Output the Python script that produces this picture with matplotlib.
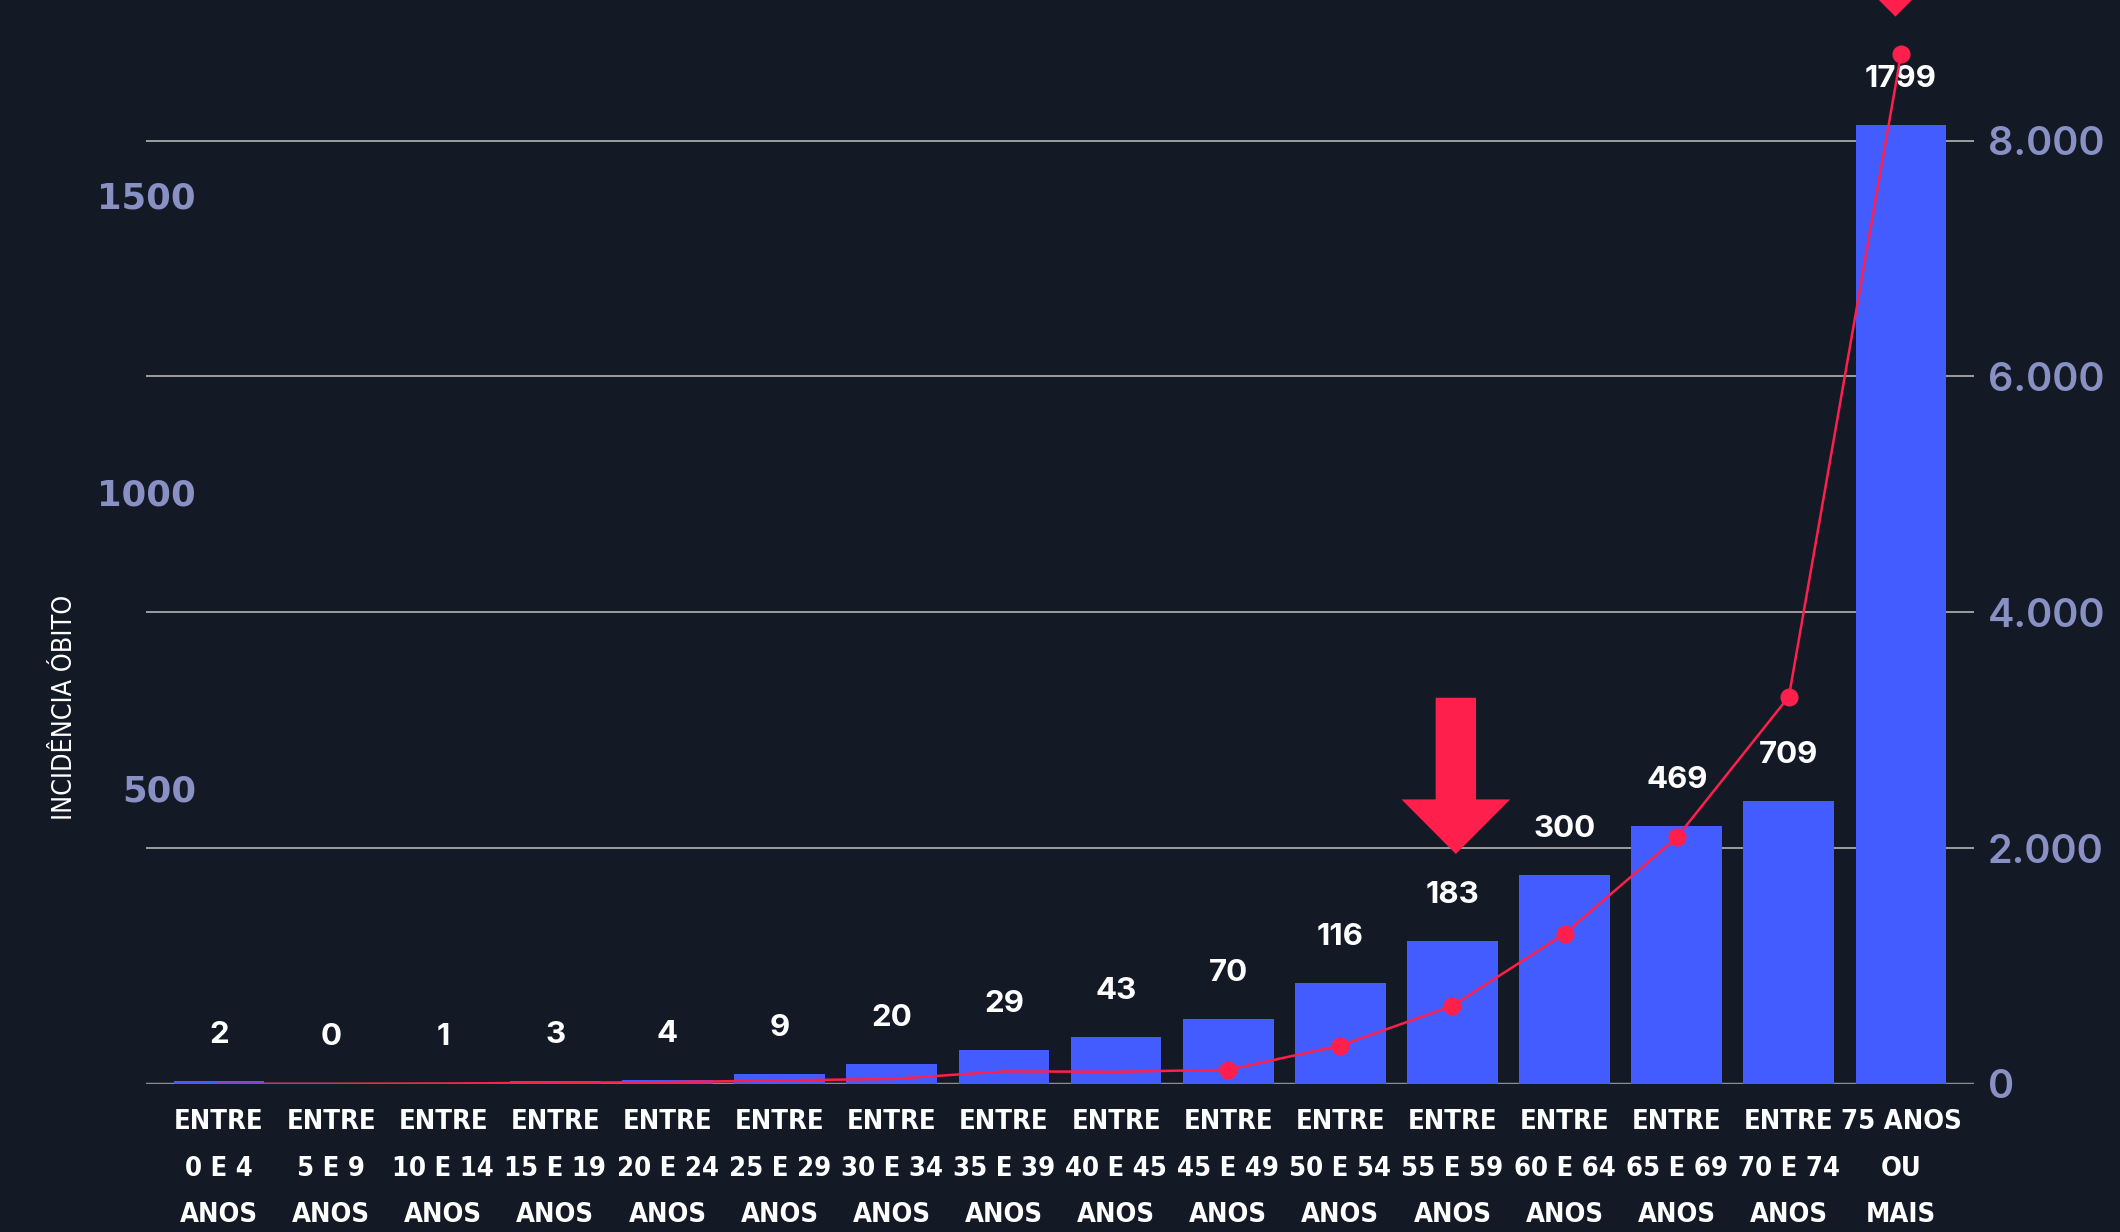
import matplotlib
matplotlib.use("Agg")
import matplotlib.pyplot as plt
from matplotlib import font_manager as fm
from matplotlib.patches import FancyArrow
from matplotlib.transforms import blended_transform_factory

# dados
faixas = [
    "ENTRE\n0 E 4\nANOS", "ENTRE\n5 E 9\nANOS", "ENTRE\n10 E 14\nANOS",
    "ENTRE\n15 E 19\nANOS", "ENTRE\n20 E 24\nANOS", "ENTRE\n25 E 29\nANOS",
    "ENTRE\n30 E 34\nANOS", "ENTRE\n35 E 39\nANOS", "ENTRE\n40 E 45\nANOS",
    "ENTRE\n45 E 49\nANOS", "ENTRE\n50 E 54\nANOS", "ENTRE\n55 E 59\nANOS",
    "ENTRE\n60 E 64\nANOS", "ENTRE\n65 E 69\nANOS", "ENTRE\n70 E 74\nANOS",
    "75 ANOS\nOU\nMAIS",
]
incidencia = [5, 1, 1, 5, 7, 17, 34, 58, 79, 110, 170, 242, 353, 436, 478, 1619]
obitos = [2, 0, 1, 3, 4, 9, 20, 29, 43, 70, 116, 183, 300, 469, 709, 1799]
linha = [0, 0, 3, 10, 15, 30, 42, 106, 103, 120, 325, 662, 1274, 2090, 3285, 8735]

ticks_esq = [500, 1000, 1500]
ticks_dir = [0, 2000, 4000, 6000, 8000]
ticks_dir_txt = ["0", "2.000", "4.000", "6.000", "8.000"]

# setas (eixo direito): x da faixa, ponta, base da cabeca, topo da haste
setas = [(11.03, 1950, 2413, 3275), (14.95, 9052, 9515, 10600)]

bg = "#131a25"
azul = "#425cff"
vermelho = "#ff1f4c"
lilas = "#8890c4"

# fonte estreita, se houver
fontes = fm.fontManager.ttflist
narrow = dict(family="DejaVu Sans")
for nome, larg in [("Liberation Sans Narrow", None), ("DejaVu Sans", "condensed"),
                   ("Roboto Condensed", None), ("Noto Sans", "condensed"),
                   ("Open Sans", "condensed"), ("Roboto", None)]:
    ok = [f for f in fontes if f.name == nome and (larg is None or f.stretch == larg)]
    if ok:
        narrow = dict(family=nome)
        if larg:
            narrow["stretch"] = larg
        break

fig = plt.figure(figsize=(21.2, 12.32), dpi=100, facecolor=bg)
ax = fig.add_axes([0.0689, 0.1202, 0.8622, 0.8798])
ax.set_facecolor(bg)
ax2 = ax.twinx()

x = list(range(len(faixas)))
ax.bar(x, incidencia, width=0.81, color=azul, zorder=3)
ax.set_xlim(-0.65, 15.65)
ax.set_ylim(0, 1830)
ax2.set_ylim(0, 9193)

# grade do eixo direito, atras das barras
tr = blended_transform_factory(ax.transAxes, ax2.transData)
for t in ticks_dir[1:]:
    ax.plot([0, 1], [t, t], transform=tr, color="#b4b4b4", lw=1.2, zorder=1)
ax.axhline(0, color="#8c8c8c", lw=2.5, zorder=2)

for i, v in enumerate(incidencia):
    ax.annotate(str(obitos[i]), (i, v), xytext=(0, 33), textcoords="offset points",
                ha="center", va="center", color="white", fontsize=22.5,
                family="Inter", weight="bold", zorder=5)

ax2.plot(x, linha, color=vermelho, lw=1.8, marker="o", markersize=12,
         markevery=list(range(9, 16)), zorder=6)

for sx, ponta, base, topo in setas:
    ax2.add_patch(FancyArrow(sx, topo, 0, ponta - topo, width=0.36, head_width=0.97,
                             head_length=base - ponta, length_includes_head=True,
                             color=vermelho, lw=0, zorder=7))

for s in ax.spines.values():
    s.set_visible(False)
for s in ax2.spines.values():
    s.set_visible(False)

r = fig.canvas.get_renderer()


def largura(txt, tam):
    tmp = fig.text(0, 0, txt, fontsize=tam, weight="bold", **narrow)
    ext = tmp.get_window_extent(r)
    tmp.remove()
    return ext


# tamanho: linhas "ENTRE / xx E yy / ANOS" cabem em ~102 px
larg_max = max(largura(l, 30).width for f in faixas[:-1] for l in f.split("\n"))
tam = min(30, 30 * 102 / larg_max)
h_lp = largura("lp", tam).height
espaco = 53 / h_lp

ax.set_xticks(x)
ax.set_xticklabels(faixas, weight="bold", fontsize=tam, color="white",
                   linespacing=espaco, va="top", **narrow)
ax.tick_params(axis="x", length=0, pad=18)

ax.set_yticks(ticks_esq)
ax.set_yticklabels([str(t) for t in ticks_esq], family="DejaVu Sans", weight="bold",
                   fontsize=25.5, color=lilas)
ax.tick_params(axis="y", length=0, pad=-36)

ax2.set_yticks(ticks_dir)
ax2.set_yticklabels(ticks_dir_txt, family="Inter", weight="semibold", fontsize=28.5, color=lilas)
ax2.tick_params(axis="y", length=0, pad=10)

yl = ax.set_ylabel("INCIDÊNCIA ÓBITO", fontsize=22, color="white", **narrow)
ax.yaxis.set_label_coords(-0.037, 0.347)
lw = yl.get_window_extent(r).height
if lw > 225:
    yl.set_fontsize(22 * 225 / lw)

fig.savefig("out.png", dpi=100, facecolor=bg)
